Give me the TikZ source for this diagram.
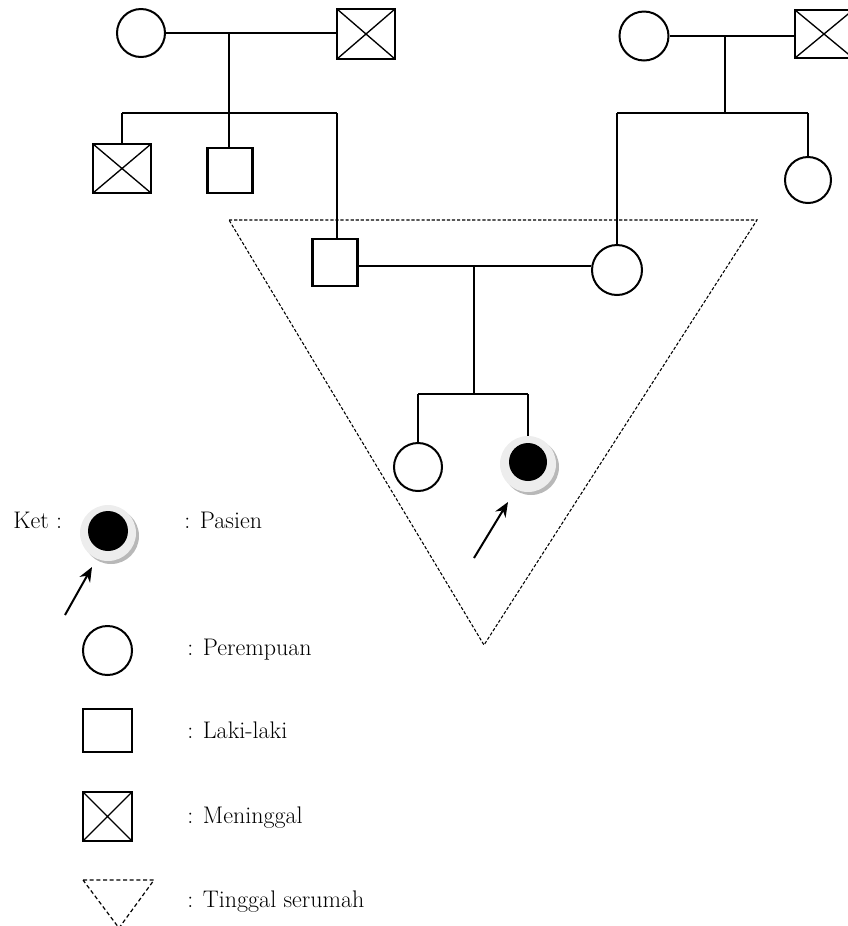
\documentclass[tikz,border=0pt]{standalone}
\usetikzlibrary{arrows.meta}
\begin{document}
\begin{tikzpicture}[x=0.75pt,y=-0.75pt,
  fem/.style={draw,circle,line width=1.5pt,inner sep=0pt,minimum size={#1*0.75pt}},
  male/.style n args={2}{draw,rectangle,line width=1.6pt,inner sep=0pt,minimum width={#1*0.75pt},minimum height={#2*0.75pt}},
  dead/.style n args={2}{male={#1}{#2},path picture={\draw[line width=1pt] (path picture bounding box.south west) -- (path picture bounding box.north east) (path picture bounding box.north west) -- (path picture bounding box.south east);}},
  link/.style={line width=0.9pt},
  house/.style={line width=0.8pt,dash pattern=on 2.4pt off 1.4pt},
  ptr/.style={line width=1.5pt,-{Stealth[length=11pt,width=9pt]}},
  lbl/.style={anchor=base west,inner sep=0pt,font=\fontsize{18}{21}\selectfont},
  shadowc/.style={circle,fill=black!28,inner sep=0pt,minimum size={#1*0.75pt}},
  ringc/.style={circle,fill=black!7,inner sep=0pt,minimum size={#1*0.75pt}},
  corec/.style={circle,fill=black,inner sep=0pt,minimum size={#1*0.75pt}}]
\useasboundingbox (0,0) rectangle (848,926);

% ---------- left grandparents ----------
\node (gf1) [fem=48] at (141,33) {};
\node (gm1) [dead={58}{50}] at (366,34) {};
\coordinate (d1) at (229,33);
\coordinate (s1) at (229,113);
\coordinate (s1l) at (122,113);
\coordinate (s1r) at (337,113);
\draw[link] (gf1.east) -- (gf1.east -| gm1.west);
\draw[link] (d1) -- (s1);
\draw[link] (s1l) -- (s1r);
\node (c1) [dead={58}{49}] at (122,168.5) {};
\node (c2) [male={45}{45}] at (230,170.5) {};
\draw[link] (s1l) -- (c1.north);
\draw[link] (s1) -- (s1 |- c2.north);

% ---------- right grandparents ----------
\node (gf2) [fem=49] at (644,36) {};
\node (gm2) [dead={58}{48}] at (824,34) {};
\coordinate (d2) at (725,36);
\coordinate (s2) at (725,113);
\coordinate (s2l) at (617,113);
\coordinate (s2r) at (808,113);
\draw[link] (gf2.east) -- (gf2.east -| gm2.west);
\draw[link] (d2) -- (s2);
\draw[link] (s2l) -- (s2r);
\node (aunt) [fem=46] at (808,180) {};
\draw[link] (s2r) -- (aunt.north);

% ---------- parents ----------
\node (F) [male={45}{47}] at (335,262.5) {};
\node (M) [fem=50] at (617,270) {};
\draw[link] (s1r) -- (s1r |- F.north);
\draw[link] (s2l) -- (M.north);
\coordinate (cpl) at (474,266);
\draw[link] (F.east |- cpl) -- (M.west |- cpl);
\coordinate (s3) at (474,394);
\coordinate (s3l) at (418,394);
\coordinate (s3r) at (528,394);
\draw[link] (cpl) -- (s3);
\draw[link] (s3l) -- (s3r);

% ---------- children ----------
\node (sis) [fem=48] at (418,467) {};
\draw[link] (s3l) -- (sis.north);
\node (Psh) [shadowc=56] at (531,467) {};
\node (P) [ringc=56] at (528,464) {};
\node (Pc) [corec=38] at (528,462) {};
\draw[link] (s3r) -- (P.north);
\coordinate (pa) at (474,558);
\draw[ptr] (pa) -- (508,502);

% ---------- household ----------
\coordinate (h1) at (229,220);
\coordinate (h2) at (757,220);
\coordinate (h3) at (484,645);
\draw[house] (h1) -- (h2) -- (h3) -- cycle;

% ---------- legend ----------
\node (ket) [lbl] at (13,528) {Ket :};
\node (LPsh) [shadowc=56] at (111,536) {};
\node (LP) [ringc=56] at (108,533) {};
\node (LPc) [corec=40] at (108,531) {};
\node (tpas) [lbl] at (184,528) {: Pasien};
\coordinate (la) at (65,615);
\draw[ptr] (la) -- (92,567);

\node (Lf) [fem=49] at (107.5,650.5) {};
\node (tf) [lbl] at (187,655) {: Perempuan};
\node (Lm) [male={49}{43}] at (107.5,730.5) {};
\node (tm) [lbl] at (187,738) {: Laki-laki};
\node (Ld) [dead={49}{49}] at (107.5,816.5) {};
\node (td) [lbl] at (187,823) {: Meninggal};
\coordinate (lh1) at (83,880);
\coordinate (lh2) at (154,880);
\coordinate (lh3) at (119,928);
\draw[house,line width=0.9pt,dash pattern=on 3pt off 2pt] (lh1) -- (lh2) -- (lh3) -- cycle;
\node (th) [lbl] at (187,907) {: Tinggal serumah};
\end{tikzpicture}
\end{document}
